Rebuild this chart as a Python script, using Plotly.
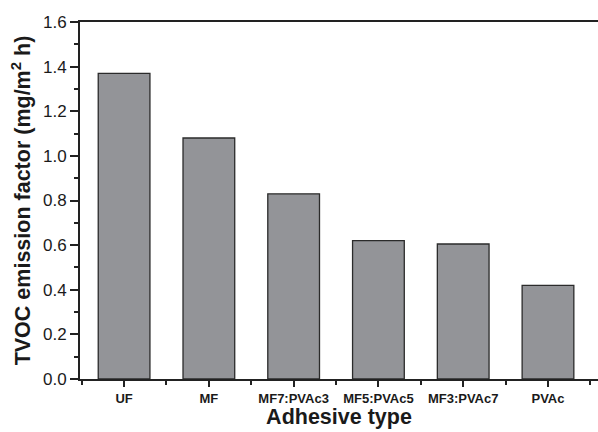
import plotly.graph_objects as go

categories = ["UF", "MF", "MF7:PVAc3", "MF5:PVAc5", "MF3:PVAc7", "PVAc"]
values = [1.37, 1.08, 0.83, 0.62, 0.605, 0.42]
y_ticks = [0.0, 0.2, 0.4, 0.6, 0.8, 1.0, 1.2, 1.4, 1.6]
y_ticklabels = ["0.0", "0.2", "0.4", "0.6", "0.8", "1.0", "1.2", "1.4", "1.6"]

positions = list(range(len(categories)))

fig = go.Figure()
fig.add_trace(go.Bar(
    x=positions, y=values, width=0.61,
    marker=dict(color="#939498", line=dict(color="#2b2b2b", width=1.3)),
))

font_family = "Arial, Liberation Sans, Helvetica, sans-serif"
fig.update_layout(
    width=598, height=432,
    margin=dict(l=80, r=0, t=22, b=53),
    paper_bgcolor="white", plot_bgcolor="white",
    showlegend=False,
    font=dict(family=font_family, color="#1a1a1a"),
)
fig.update_xaxes(
    range=[-0.52, 5.59],
    tickmode="array", tickvals=positions, ticktext=categories,
    tickfont=dict(size=13, family=font_family, weight="bold"),
    ticks="outside", ticklen=6, tickwidth=1.5, tickcolor="#222",
    minor=dict(tickmode="linear", tick0=0.5, dtick=1, ticks="outside",
               ticklen=4, tickwidth=1.5, tickcolor="#222"),
    showline=True, linecolor="#222", linewidth=1.8, mirror=True,
    showgrid=False, zeroline=False,
    title=dict(text="Adhesive type", font=dict(size=21.5, weight="bold"), standoff=3),
)
fig.update_yaxes(
    range=[0, 1.6],
    tickmode="array", tickvals=y_ticks, ticktext=y_ticklabels,
    tickfont=dict(size=17, family=font_family),
    ticks="outside", ticklen=8, tickwidth=1.5, tickcolor="#222",
    minor=dict(tickmode="linear", tick0=0, dtick=0.1, ticks="outside",
               ticklen=4, tickwidth=1.5, tickcolor="#222"),
    showline=True, linecolor="#222", linewidth=1.8,
    showgrid=False, zeroline=False,
    title=dict(text="TVOC emission factor (mg/m<sup>2</sup> h)",
               font=dict(size=21.5, weight="bold"), standoff=7),
)

fig.write_html("out.html")
